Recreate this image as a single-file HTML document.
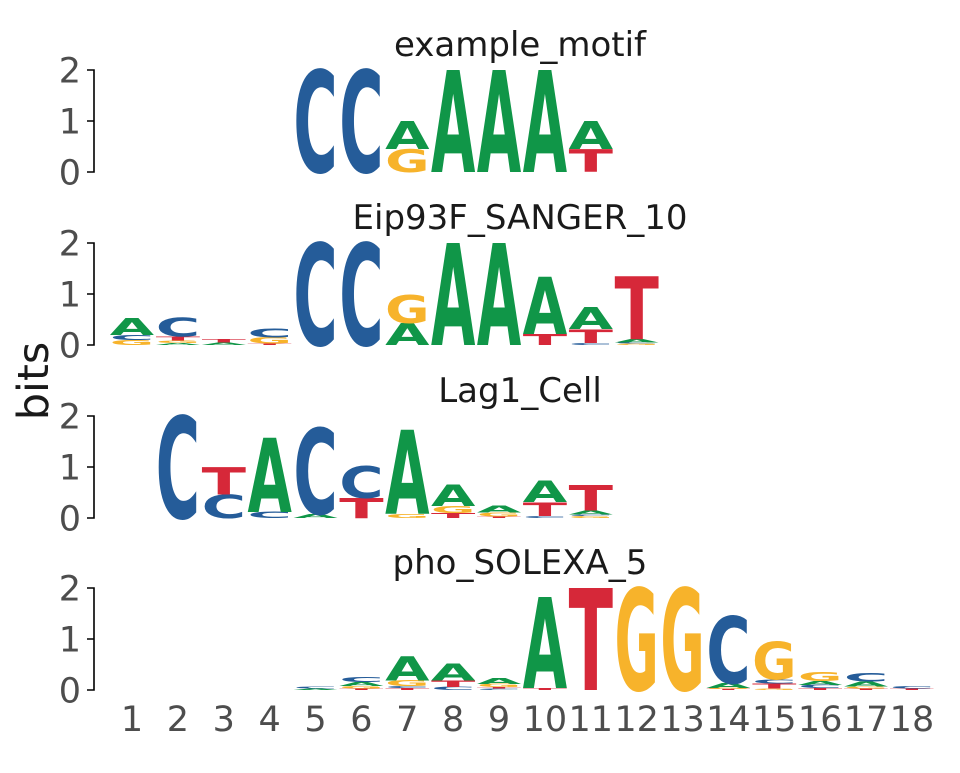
<!DOCTYPE html>
<html><head><meta charset="utf-8"><style>
html,body{margin:0;padding:0;background:#fff}
svg text{font-family:"DejaVu Sans","Liberation Sans",sans-serif}
</style></head><body>
<svg id="chart" width="960" height="768" viewBox="0 0 960 768" xmlns="http://www.w3.org/2000/svg"></svg>
<script>
const motifNames = ["example_motif","Eip93F_SANGER_10","Lag1_Cell","pho_SOLEXA_5"];
const positions = [1,2,3,4,5,6,7,8,9,10,11,12,13,14,15,16,17,18];
const yTicks = [0,1,2];
// stacks: bottom to top, [letter, bits], keyed by position
const motif1 = {5:[["C",2.0]],6:[["C",2.0]],7:[["G",0.45],["A",0.55]],8:[["A",2.0]],9:[["A",2.0]],10:[["A",2.0]],11:[["T",0.45],["A",0.55]]};
const motif2 = {1:[["G",0.1],["C",0.1],["A",0.33]],2:[["A",0.04],["G",0.05],["T",0.08],["C",0.37]],3:[["A",0.05],["T",0.06]],4:[["T",0.03],["G",0.12],["C",0.18]],5:[["C",2.0]],6:[["C",2.0]],7:[["A",0.43],["G",0.55]],8:[["A",2.0]],9:[["A",2.0]],10:[["T",0.22],["A",1.12]],11:[["C",0.04],["T",0.27],["A",0.43]],12:[["G",0.03],["C",0.02],["A",0.06],["T",1.24]]};
const motif3 = {2:[["C",2.0]],3:[["C",0.46],["T",0.54]],4:[["C",0.12],["A",1.45]],5:[["A",0.08],["C",1.68]],6:[["T",0.39],["C",0.62]],7:[["G",0.08],["A",1.64]],8:[["T",0.1],["G",0.14],["A",0.42]],9:[["T",0.03],["G",0.08],["A",0.14]],10:[["C",0.04],["T",0.27],["A",0.42]],11:[["G",0.04],["C",0.03],["A",0.08],["T",0.5]]};
const motif4 = {5:[["A",0.03],["C",0.04]],6:[["T",0.03],["G",0.05],["A",0.08],["C",0.1]],7:[["T",0.04],["C",0.04],["G",0.11],["A",0.47]],8:[["C",0.06],["T",0.13],["A",0.33]],9:[["C",0.03],["T",0.03],["G",0.06],["A",0.11]],10:[["T",0.04],["A",1.79]],11:[["T",2.0]],12:[["G",2.0]],13:[["G",2.0]],14:[["T",0.02],["G",0.02],["A",0.1],["C",1.31]],15:[["G",0.03],["T",0.1],["C",0.08],["G",0.74]],16:[["T",0.04],["C",0.06],["A",0.08],["G",0.18]],17:[["T",0.03],["G",0.04],["A",0.1],["C",0.16]],18:[["T",0.03],["C",0.05]]};
const motifs = [motif1,motif2,motif3,motif4];

const NS="http://www.w3.org/2000/svg";
const svg=document.getElementById("chart");
const colors={A:"#109648",C:"#255C99",G:"#F7B32B",T:"#D62839"};
const panelBase=[172,345,518,690];
const bitPx=51;
const colW=45.88;
function xScale(p){return 132+(p-1)*colW;}
function yScale(panel,b){return panelBase[panel]-b*bitPx;}
function mk(tag,attrs,parent){const e=document.createElementNS(NS,tag);for(const k in attrs)e.setAttribute(k,attrs[k]);(parent||svg).appendChild(e);return e;}

for(let pi=0;pi<4;pi++){
  const g=mk("g",{});
  
  
  const title=mk("text",{x:520,y:yScale(pi,2)-14,"text-anchor":"middle","font-size":"34",fill:"#1a1a1a"},g);
  title.textContent=motifNames[pi];
  
  
  const ax=mk("path",{d:`M87 ${yScale(pi,2)}H94V${yScale(pi,0)}H87M87 ${yScale(pi,1)}H94`,stroke:"#000","stroke-width":"1.6",fill:"none"},g);
  
  
  yTicks.forEach(t=>{
    const tl=mk("text",{x:81,y:yScale(pi,t)+12.5,"text-anchor":"end","font-size":"35",fill:"#4d4d4d"},g);
    tl.textContent=t;
    
    
  });
  const m=motifs[pi];
  for(const p in m){
    let acc=0;
    m[p].forEach(([L,h])=>{
      const yb=yScale(pi,acc), hp=h*bitPx;
      acc+=h;
      const w=colW-1.5;
      const x0=xScale(+p)-w/2;
      const t=mk("text",{x:0,y:0,"font-size":"100","font-weight":"bold","font-family":"Liberation Sans, sans-serif",fill:colors[L],textLength:"100",lengthAdjust:"spacingAndGlyphs",transform:`translate(${x0},${yb}) scale(${w/100},${hp/72.9})`},g);
      t.textContent=L;
      
      
    });
  }
}
positions.forEach(p=>{
  const t=mk("text",{x:xScale(p),y:731,"text-anchor":"middle","font-size":"35",fill:"#4d4d4d"});
  t.textContent=p;
  
  
});
const yl=mk("text",{x:0,y:0,"text-anchor":"middle","font-size":"43",fill:"#1a1a1a",transform:"translate(48,381) rotate(-90)"});
yl.textContent="bits";


</script>
</body></html>
